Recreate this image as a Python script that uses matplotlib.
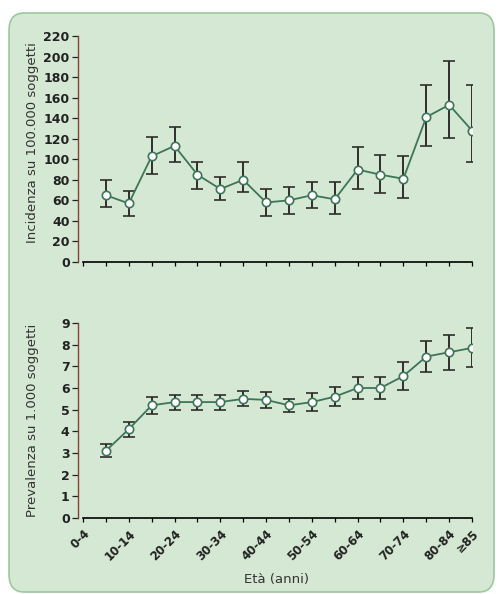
import numpy as np
import matplotlib
matplotlib.use("Agg")
import matplotlib.pyplot as plt
from matplotlib.patches import FancyBboxPatch

# age classes (18), data starts from the second class
eta = ["0-4", "5-9", "10-14", "15-19", "20-24", "25-29", "30-34", "35-39", "40-44",
       "45-49", "50-54", "55-59", "60-64", "65-69", "70-74", "75-79", "80-84", "\u226585"]

# incidence per 100,000 (value, lower and upper CI)
inc = [65, 57, 103, 113, 85, 71, 80, 58, 60, 65, 61, 90, 85, 81, 141, 153, 128]
inc_lo = [54, 45, 86, 97, 71, 60, 68, 45, 47, 53, 47, 71, 67, 62, 113, 121, 97]
inc_hi = [80, 69, 122, 131, 97, 83, 97, 71, 73, 78, 78, 112, 104, 103, 172, 196, 172]

# prevalence per 1,000 (value and +- error)
prev = [3.1, 4.1, 5.2, 5.35, 5.35, 5.35, 5.5, 5.45, 5.2, 5.35, 5.6, 6.0, 6.0, 6.55, 7.45, 7.65, 7.85]
prev_err = [0.3, 0.35, 0.4, 0.35, 0.35, 0.35, 0.35, 0.35, 0.3, 0.4, 0.45, 0.5, 0.5, 0.65, 0.7, 0.8, 0.9]

plt.rcParams['font.family'] = ['Liberation Sans Narrow', 'DejaVu Sans']

fig = plt.figure(figsize=(4.99, 5.94), dpi=100)
fig.patch.set_facecolor("white")

# rounded green box behind everything
box = FancyBboxPatch((9/499, 2/594), 485/499, 579/594,
                     boxstyle="round,pad=0,rounding_size=0.03",
                     transform=fig.transFigure, facecolor="#d5e8d3",
                     edgecolor="#9cc89c", linewidth=1.2, zorder=-10)
fig.patches.append(box)

x = np.arange(1, len(eta))
line_col = "#3e7558"
err_col = "#2f2f2a"
spine_red = "#8a3f32"

ax1 = fig.add_axes([78/499, 1-262/594, 394/499, 226/594])
ax2 = fig.add_axes([78/499, 1-518/594, 394/499, 195/594])

inc_arr = np.array(inc)
yerr1 = [inc_arr - np.array(inc_lo), np.array(inc_hi) - inc_arr]
ax1.errorbar(x, inc, yerr=yerr1, fmt='-o', color=line_col, ecolor=err_col,
             elinewidth=1.4, capsize=4.3, capthick=1.4, lw=1.3,
             markersize=6, markerfacecolor="white", markeredgecolor=line_col,
             markeredgewidth=1.2)
ax2.errorbar(x, prev, yerr=prev_err, fmt='-o', color=line_col, ecolor=err_col,
             elinewidth=1.4, capsize=4.3, capthick=1.4, lw=1.3,
             markersize=6, markerfacecolor="white", markeredgecolor=line_col,
             markeredgewidth=1.2)

ax1.set_ylim(0, 220)
ax1.set_yticks(np.arange(0, 221, 20))
ax2.set_ylim(0, 9)
ax2.set_yticks(np.arange(0, 10, 1))

for ax in (ax1, ax2):
    ax.set_facecolor("none")
    ax.set_xlim(-0.22, 17)
    ax.spines['top'].set_visible(False)
    ax.spines['right'].set_visible(False)
    ax.spines['bottom'].set_bounds(0, 17)
    ax.spines['left'].set_color(spine_red)
    ax.spines['left'].set_linewidth(1.0)
    ax.spines['bottom'].set_linewidth(1.2)
    ax.set_xticks(np.arange(len(eta)))
    ax.tick_params(axis='y', colors="#222222", labelsize=9, length=4, width=0.9, pad=2)
    ax.tick_params(axis='x', length=3, width=0.9)
    for lab in ax.get_yticklabels():
        lab.set_fontweight('bold')

ax1.set_xticklabels([])
labels = [e if (i % 2 == 0 or i == len(eta) - 1) else "" for i, e in enumerate(eta)]
ax2.set_xticklabels(labels, rotation=45, ha='right', va='top',
                    rotation_mode='anchor', fontsize=8.5, fontweight='bold',
                    color="#222222")

fig.text(33/499, 1-143/594, "Incidenza su 100.000 soggetti", rotation=90,
         ha='center', va='center', fontsize=9.5, color="#333333")
fig.text(33/499, 1-420/594, "Prevalenza su 1.000 soggetti", rotation=90,
         ha='center', va='center', fontsize=9.5, color="#333333")
fig.text(276/499, 1-580/594, "Età (anni)", ha='center', va='center',
         fontsize=9.5, color="#333333")

plt.savefig("out.png", dpi=100)
